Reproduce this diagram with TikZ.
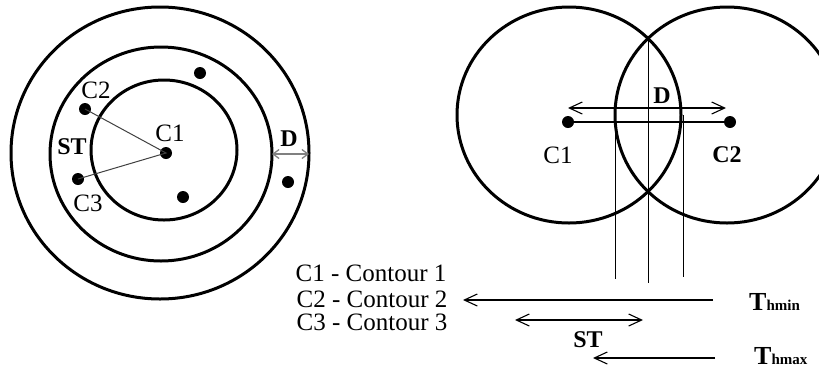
\documentclass[tikz,border=0pt]{standalone}
\usepackage{fontspec}
\setmainfont{Liberation Serif}
\usetikzlibrary{arrows.meta}
\tikzset{
  ring/.style={line width=3pt},
  dot/.style={circle, fill, inner sep=0pt, minimum size=12pt},
  lbl/.style={font=\fontsize{25}{27}\selectfont, inner sep=1pt},
  blbl/.style={font=\fontsize{24}{26}\selectfont\bfseries, inner sep=1pt},
  tlbl/.style={font=\bfseries, inner sep=0pt, anchor=base west},
  openarrow/.style={line width=1.1pt, -{Straight Barb[length=13pt,width=12pt]}},
  twoarrow/.style={line width=1.1pt, {Straight Barb[length=13pt,width=12pt]}-{Straight Barb[length=13pt,width=12pt]}},
  grayarrow/.style={line width=1.3pt, gray, {Straight Barb[length=6pt,width=9pt]}-{Straight Barb[length=6pt,width=9pt]}},
}
\begin{document}
\begin{tikzpicture}[x=1pt, y=-1pt]
  \useasboundingbox (0,0) rectangle (819,368);
  % Concentric contours
  \draw[ring] (160,153) ellipse [x radius=149, y radius=146];
  \draw[ring] (161,154) ellipse [x radius=111, y radius=107];
  \draw[ring] (164,150) ellipse [x radius=73, y radius=70];
  \node[dot] (c1) at (166,153) {};
  \node[dot] (c2) at (85,109) {};
  \node[dot] (c3) at (78,179) {};
  \foreach \n/\x/\y in {a/200/73, b/183/197, e/288/182} {
    \node[dot] (pt\n) at (\x,\y) {};
  }
  \draw[line width=1pt, black!75] (c2.center) -- (c1.center) -- (c3.center);
  \node[lbl] (c1lbl) at (170,133) {C1};
  \node[lbl] (c2lbl) at (96,90) {C2};
  \node[lbl] (c3lbl) at (88,203) {C3};
  \node[blbl] (stlbl) at (72,147) {ST};
  \node[blbl] (dlbl) at (289,139) {D};
  \coordinate (din) at (272,154);
  \coordinate (dout) at (309,154);
  \draw[grayarrow] (din) -- (dout);
  % Overlapping contours
  \draw[ring] (569,115) ellipse [x radius=112, y radius=108];
  \draw[ring] (727,115) ellipse [x radius=112, y radius=108];
  \node[dot] (r1) at (568,122) {};
  \node[dot] (r2) at (730,122) {};
  \draw[line width=2.2pt] (r1.center) -- (r2.center);
  \coordinate (da) at (568,108);
  \coordinate (db) at (726,108);
  \draw[twoarrow] (da) -- (db);
  \node[blbl] (rdlbl) at (662,96) {D};
  \node[lbl] (r1lbl) at (558,155) {C1};
  \node[blbl] (r2lbl) at (727,155) {C2};
  \foreach \n/\x/\ya/\yb in {l/615/115/279, m/648/37/283, r/683/115/277} {
    \coordinate (v\n top) at (\x,\ya);
    \coordinate (v\n bot) at (\x,\yb);
    \draw[line width=1pt] (v\n top) -- (v\n bot);
  }
  % Legend and thresholds
  \node[lbl] (leg1) at (371,273) {C1 - Contour 1};
  \node[lbl] (leg2) at (372,299) {C2 - Contour 2};
  \node[lbl] (leg3) at (372,322) {C3 - Contour 3};
  \node[tlbl] (thmin) at (749,310) {\fontsize{26}{28}\selectfont T\fontsize{15}{16}\selectfont hmin};
  \node[tlbl] (thmax) at (754,364) {\fontsize{26}{28}\selectfont T\fontsize{15}{16}\selectfont hmax};
  \coordinate (hmina) at (713,300);
  \coordinate (hminb) at (463,300);
  \draw[openarrow] (hmina) -- (hminb);
  \coordinate (sta) at (515,320);
  \coordinate (stb) at (643,320);
  \draw[twoarrow] (sta) -- (stb);
  \node[blbl] (stbot) at (588,340) {ST};
  \coordinate (hmaxa) at (715,358);
  \coordinate (hmaxb) at (593,358);
  \draw[openarrow] (hmaxa) -- (hmaxb);
\end{tikzpicture}
\end{document}
